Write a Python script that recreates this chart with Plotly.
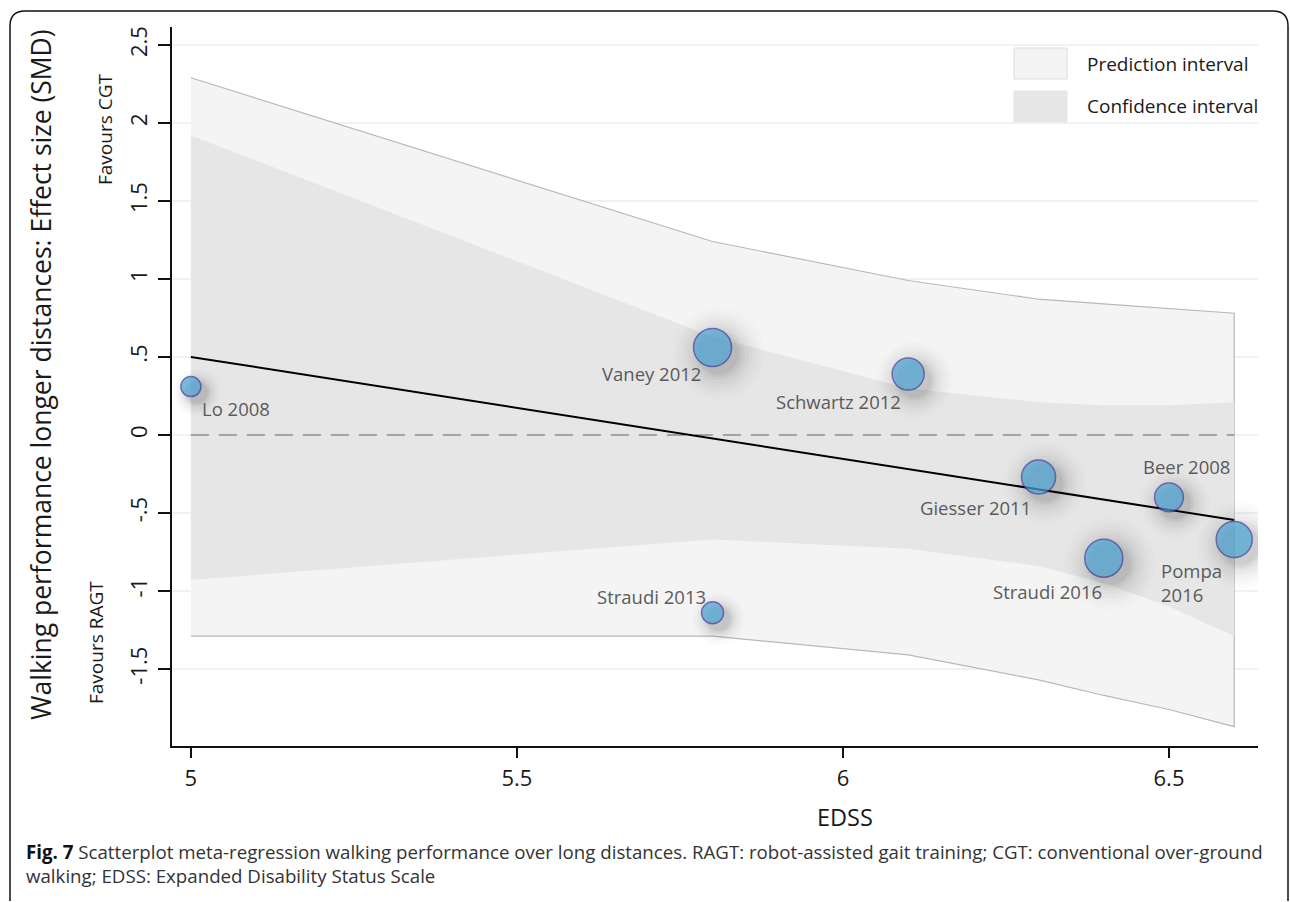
import plotly.graph_objects as go

# ---- study data -------------------------------------------------------------
studies = ["Lo 2008", "Vaney 2012", "Schwartz 2012", "Giesser 2011",
           "Beer 2008", "Pompa<br>2016", "Straudi 2016", "Straudi 2013"]
edss = [5.0, 5.8, 6.1, 6.3, 6.5, 6.6, 6.4, 5.8]
smd = [0.31, 0.56, 0.39, -0.27, -0.40, -0.67, -0.79, -1.14]
weight = [5.0, 9.5, 8.0, 8.5, 7.2, 9.0, 9.5, 5.5]

# ---- meta-regression fit and bands ------------------------------------------
fit_x = [5.0, 6.6]
fit_y = [0.50, -0.545]

band_x = [5.0, 5.8, 6.1, 6.3, 6.4, 6.5, 6.6]
pi_upper = [2.29, 1.24, 0.99, 0.87, 0.84, 0.81, 0.78]
pi_lower = [-1.29, -1.29, -1.41, -1.57, -1.67, -1.76, -1.87]
ci_upper = [1.92, 0.63, 0.30, 0.21, 0.19, 0.19, 0.21]
ci_lower = [-0.93, -0.67, -0.73, -0.84, -0.95, -1.10, -1.29]

y_tickvals = [2.5, 2, 1.5, 1, 0.5, 0, -0.5, -1, -1.5]
y_ticktext = ["2.5", "2", "1.5", "1", ".5", "0", "-.5", "-1", "-1.5"]
x_tickvals = [5, 5.5, 6, 6.5]
x_ticktext = ["5", "5.5", "6", "6.5"]

# ---- page geometry ----------------------------------------------------------
W, H = 1290, 902
ML, MR, MT, MB = 172, 32, 27, 156
PW, PH = W - ML - MR, H - MT - MB
X_RANGE = [4.971, 6.6365]
Y_RANGE = [-1.994, 2.615]


def px(xp):
    return (xp - ML) / PW


def py(yp):
    return 1 - (yp - MT) / PH


FONT = "Open Sans"
LABEL_COLOR = "#5a5a5a"
TEXT_COLOR = "#1a1a1a"

fig = go.Figure()

# prediction interval
fig.add_trace(go.Scatter(
    x=band_x + band_x[::-1], y=pi_upper + pi_lower[::-1],
    fill="toself", fillcolor="#f4f4f4", mode="lines",
    line=dict(color="#b9b9b9", width=1.2), hoverinfo="skip", showlegend=False))

# confidence interval
fig.add_trace(go.Scatter(
    x=band_x + band_x[::-1], y=ci_upper + ci_lower[::-1],
    fill="toself", fillcolor="#e6e6e6", mode="lines",
    line=dict(color="rgba(0,0,0,0)", width=0), hoverinfo="skip", showlegend=False))

# null effect
fig.add_trace(go.Scatter(
    x=[X_RANGE[0] + 0.029, fit_x[1]], y=[0, 0], mode="lines",
    line=dict(color="#8c8c8c", width=1.6, dash="18px,10px"),
    hoverinfo="skip", showlegend=False))

# regression line
fig.add_trace(go.Scatter(
    x=fit_x, y=fit_y, mode="lines", line=dict(color="#000000", width=2),
    hoverinfo="skip", showlegend=False))

# soft drop shadows behind the study markers (offset down-right)
dx = 6 / PW * (X_RANGE[1] - X_RANGE[0])
dy = -6 / PH * (Y_RANGE[1] - Y_RANGE[0])
for scale, alpha in [(2.4, 0.02), (2.2, 0.025), (2.0, 0.03), (1.8, 0.035),
                     (1.6, 0.045), (1.4, 0.055), (1.25, 0.07), (1.1, 0.09)]:
    fig.add_trace(go.Scatter(
        x=[v + dx for v in edss], y=[v + dy for v in smd], mode="markers",
        marker=dict(size=weight, sizemode="diameter", sizeref=0.25 / scale,
                    color=f"rgba(50,50,50,{alpha})", line=dict(width=0)),
        hoverinfo="skip", showlegend=False))

# study markers
fig.add_trace(go.Scatter(
    x=edss, y=smd, mode="markers", text=studies,
    marker=dict(size=weight, sizemode="diameter", sizeref=0.25,
                color="#4ba5d6", line=dict(color="#3a3a98", width=1.5)),
    showlegend=False))

# study labels (pixel offsets from each marker)
label_pos = {
    "Lo 2008": ("left", 9, -22),
    "Vaney 2012": ("right", -10, -26),
    "Schwartz 2012": ("right", -5, -27),
    "Giesser 2011": ("right", -6, -30),
    "Beer 2008": ("center", 18, 31),
    "Pompa<br>2016": ("left", -75, -43),
    "Straudi 2016": ("right", 0, -33),
    "Straudi 2013": ("right", -5, 16),
}
for name, xv, yv in zip(studies, edss, smd):
    anchor, xs, ys = label_pos[name]
    fig.add_annotation(x=xv, y=yv, text=name, showarrow=False,
                       xanchor=anchor, yanchor="middle", xshift=xs, yshift=ys,
                       align="left",
                       font=dict(family=FONT, size=18.5, color=LABEL_COLOR))

# legend swatches and texts
legend_items = [("Prediction interval", "#f4f4f4", "#dcdcdc", 48, 79),
                ("Confidence interval", "#e6e6e6", "#e6e6e6", 91, 122)]
for label, fillc, linec, y0, y1 in legend_items:
    fig.add_shape(type="rect", xref="paper", yref="paper",
                  x0=px(1014), x1=px(1067), y0=py(y1), y1=py(y0),
                  fillcolor=fillc, line=dict(color=linec, width=1), layer="above")
    fig.add_annotation(xref="paper", yref="paper", x=px(1085), y=py((y0 + y1) / 2),
                       text=label, showarrow=False, xanchor="left", yanchor="middle",
                       font=dict(family=FONT, size=19, color=TEXT_COLOR))


def free_text(xp, yp, text, size, angle=0, anchor="center", color=TEXT_COLOR):
    fig.add_annotation(xref="paper", yref="paper", x=px(xp), y=py(yp),
                       text=text, textangle=angle, showarrow=False,
                       xanchor=anchor, yanchor="middle",
                       font=dict(family=FONT, size=size, color=color))


# direction hints
free_text(105, 130, "Favours CGT", 19, angle=-90)
free_text(96, 643, "Favours RAGT", 19, angle=-90)

# axis titles
free_text(41, 375, "Walking performance longer distances: Effect size (SMD)", 26.5, angle=-90)
free_text(845, 817, "EDSS", 23.5)

# caption
fig.add_annotation(xref="paper", yref="paper", x=px(24), y=py(863),
                   xanchor="left", yanchor="middle", align="left",
                   text=("<b style='color:#111'>Fig. 7</b> Scatterplot meta-regression walking "
                         "performance over long distances. RAGT: robot-assisted gait training; "
                         "CGT: conventional over-ground<br>walking; EDSS: Expanded Disability Status Scale"),
                   showarrow=False,
                   font=dict(family=FONT, size=18.7, color="#333333"))

# rounded outer frame
x0f, y0f, x1f, y1f, r = px(10), py(11), px(1288), py(901), 15
rx, ry = r / PW, r / PH
frame_path = (f"M {x0f},{y1f} L {x0f},{y0f - ry} Q {x0f},{y0f} {x0f + rx},{y0f} "
              f"L {x1f - rx},{y0f} Q {x1f},{y0f} {x1f},{y0f - ry} L {x1f},{y1f}")
fig.add_shape(type="path", xref="paper", yref="paper", path=frame_path,
              line=dict(color="#111111", width=1.5), layer="above")

fig.update_layout(
    width=W, height=H,
    margin=dict(l=ML, r=MR, t=MT, b=MB),
    paper_bgcolor="white", plot_bgcolor="white",
    font=dict(family=FONT, color=TEXT_COLOR),
    showlegend=False,
    xaxis=dict(range=X_RANGE, tickvals=x_tickvals, ticktext=x_ticktext,
               showgrid=False, zeroline=False, showline=True,
               linecolor="#111111", linewidth=2, ticks="outside", ticklen=10,
               tickwidth=1.5, tickcolor="#111111", ticklabelstandoff=2,
               tickfont=dict(family=FONT, size=22, color=TEXT_COLOR)),
    yaxis=dict(range=Y_RANGE, tickvals=y_tickvals, ticktext=y_ticktext,
               showgrid=True, gridcolor="#edf2f2", gridwidth=1.5,
               zeroline=False, showline=True,
               linecolor="#111111", linewidth=2, ticks="outside", ticklen=12,
               tickwidth=1.5, tickcolor="#111111", tickangle=-90,
               ticklabelstandoff=2,
               tickfont=dict(family=FONT, size=22, color=TEXT_COLOR)),
)

fig.write_html("out.html")
